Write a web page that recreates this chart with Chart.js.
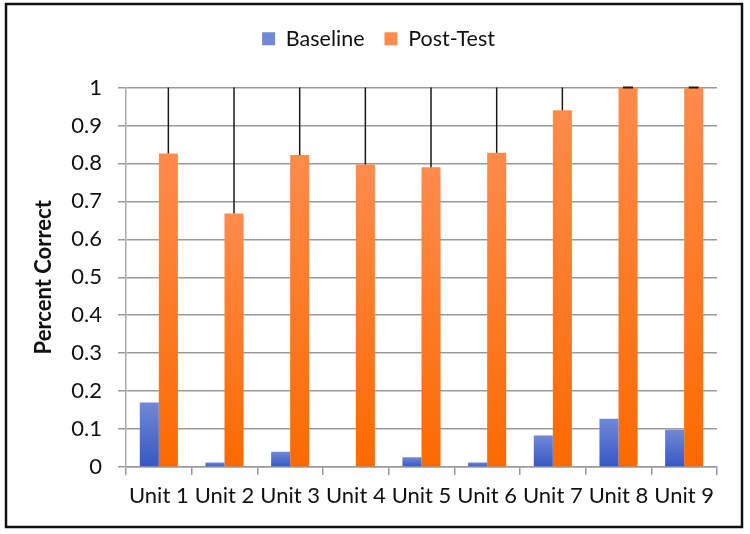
<!DOCTYPE html>
<html>
<head>
<meta charset="utf-8">
<script src="https://cdn.jsdelivr.net/npm/chart.js@4/dist/chart.umd.min.js"></script>
<style>
  html, body { margin: 0; padding: 0; background: #fff; }
  #wrap { position: relative; width: 750px; height: 534px; }
</style>
</head>
<body>
<div id="wrap"><canvas id="c" width="750" height="534"></canvas></div>
<script>
const categories = ['Unit 1', 'Unit 2', 'Unit 3', 'Unit 4', 'Unit 5', 'Unit 6', 'Unit 7', 'Unit 8', 'Unit 9'];
const baseline = [0.17, 0.012, 0.04, 0, 0.026, 0.012, 0.083, 0.127, 0.098];
const postTest = [0.826, 0.668, 0.822, 0.797, 0.79, 0.828, 0.94, 1, 1];
const postTestError = [0.25, 0.4, 0.25, 0.25, 0.3, 0.25, 0.1, 0, 0];
const seriesNames = ['Baseline', 'Post-Test'];
const yAxisTitle = 'Percent Correct';

const FONT = 'Lato';

function barGradient(top, bottom, solid) {
  return function (ctx) {
    const chart = ctx.chart;
    if (ctx.type !== 'data' || !chart.chartArea || !chart.scales.y) return solid;
    const ys = chart.scales.y;
    const y1 = ys.getPixelForValue(ctx.raw);
    const y0 = ys.getPixelForValue(0);
    if (!isFinite(y1) || !isFinite(y0) || Math.abs(y0 - y1) < 1) return solid;
    const g = chart.ctx.createLinearGradient(0, y1, 0, y0);
    g.addColorStop(0, top);
    g.addColorStop(1, bottom);
    return g;
  };
}

const frame = {
  id: 'frame',
  beforeDraw(chart) {
    const c = chart.ctx;
    c.save();
    c.fillStyle = '#fff';
    c.fillRect(0, 0, chart.width, chart.height);
    c.restore();
  },
  afterDraw(chart) {
    const c = chart.ctx;
    c.save();
    c.strokeStyle = '#111';
    c.lineWidth = 2.5;
    c.strokeRect(6, 4, 736, 523);
    c.restore();
  }
};

// Shift the legend horizontally so it is centred like the reference
const legendShift = {
  id: 'legendShift',
  afterLayout(chart) {
    const lg = chart.legend;
    if (lg) { lg.left += 20; lg.right += 20; }
  }
};

const errorBars = {
  id: 'errorBars',
  afterDatasetsDraw(chart) {
    const meta = chart.getDatasetMeta(1);
    const ys = chart.scales.y;
    const area = chart.chartArea;
    const c = chart.ctx;
    c.save();
    c.strokeStyle = '#1a1a1a';
    c.lineWidth = 1.5;
    meta.data.forEach((bar, i) => {
      const x = bar.x;
      const yv = ys.getPixelForValue(postTest[i]);
      const ye = ys.getPixelForValue(postTest[i] + postTestError[i]);
      const yTop = Math.max(ye, area.top);
      if (yv - yTop > 0.5) {
        c.beginPath();
        c.moveTo(x, yv);
        c.lineTo(x, yTop);
        c.stroke();
      }
      if (ye >= area.top - 0.5) {
        c.save();
        c.lineWidth = 2;
        c.beginPath();
        c.moveTo(x - 5, ye);
        c.lineTo(x + 5, ye);
        c.stroke();
        c.restore();
      }
    });
    c.restore();
  }
};

new Chart(document.getElementById('c'), {
  type: 'bar',
  data: {
    labels: categories,
    datasets: [
      {
        label: seriesNames[0],
        data: baseline,
        backgroundColor: barGradient('#7088d6', '#3657c4', '#4a6acd'),
        borderWidth: 0,
        categoryPercentage: 0.58,
        barPercentage: 1.0
      },
      {
        label: seriesNames[1],
        data: postTest,
        backgroundColor: barGradient('#ff8b4c', '#fb6a00', '#ff6a10'),
        borderWidth: 0,
        categoryPercentage: 0.58,
        barPercentage: 1.0
      }
    ]
  },
  options: {
    responsive: false,
    animation: false,
    devicePixelRatio: 1,
    layout: { padding: { left: 0, right: 33, top: 8, bottom: 0 } },
    plugins: {
      legend: {
        display: true,
        position: 'top',
        labels: {
          boxWidth: 13,
          boxHeight: 13,
          padding: 20,
          color: '#111',
          font: { family: FONT, size: 21.5 }
        }
      },
      subtitle: {
        display: true,
        text: '',
        weight: 500,
        font: { size: 10 },
        padding: { top: 0, bottom: 16 }
      },
      tooltip: { enabled: false }
    },
    scales: {
      x: {
        offset: true,
        grid: {
          offset: true,
          drawOnChartArea: false,
          drawTicks: true,
          tickLength: 8,
          color: '#999',
          lineWidth: 1.5
        },
        border: { display: true, color: '#999', width: 1.5 },
        ticks: {
          color: '#111',
          padding: 8,
          maxRotation: 0,
          font: { family: FONT, size: 22 }
        },
        afterFit(scale) { scale.height = 67; }
      },
      y: {
        min: 0,
        max: 1,
        ticks: {
          stepSize: 0.1,
          color: '#111',
          padding: 16,
          font: { family: FONT, size: 22 },
          callback: (v) => String(Number(v.toFixed(1)))
        },
        grid: {
          drawOnChartArea: true,
          drawTicks: true,
          tickLength: 8,
          color: '#999',
          lineWidth: 1.5
        },
        border: { display: true, color: '#aaa', width: 1.5 },
        title: {
          display: true,
          text: yAxisTitle,
          color: '#111',
          padding: { top: 31, bottom: 0 },
          font: { family: FONT, size: 22, weight: 'bold' }
        },
        afterFit(scale) { scale.width = 126; }
      }
    }
  },
  plugins: [frame, legendShift, errorBars]
});
</script>
</body>
</html>
